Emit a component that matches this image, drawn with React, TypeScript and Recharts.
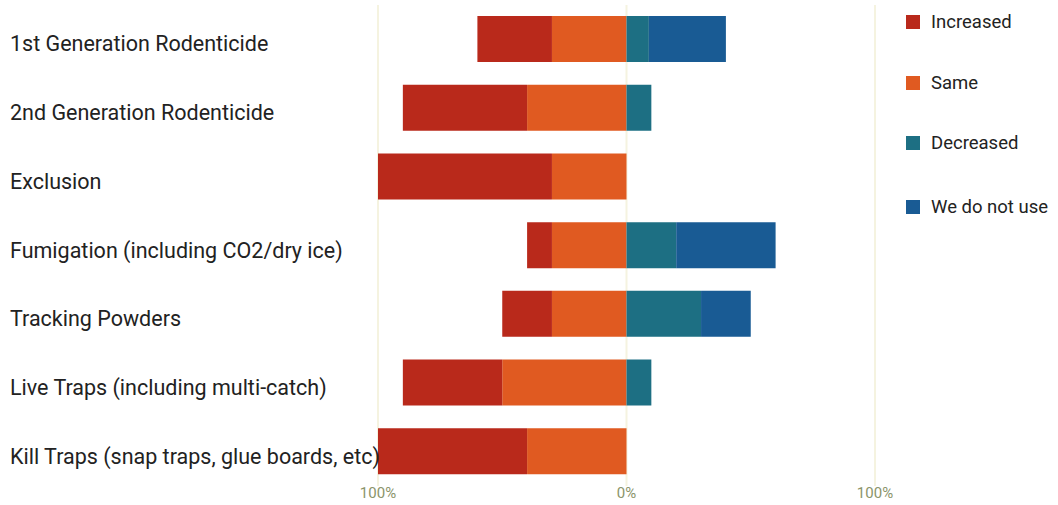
import React from 'react';
import { BarChart, Bar, XAxis, YAxis, CartesianGrid } from 'recharts';

const categories = [
  '1st Generation Rodenticide',
  '2nd Generation Rodenticide',
  'Exclusion',
  'Fumigation (including CO2/dry ice)',
  'Tracking Powders',
  'Live Traps (including multi-catch)',
  'Kill Traps (snap traps, glue boards, etc)',
];

// percentages; increased and same are drawn to the left of zero
const increased = [30, 50, 70, 10, 20, 40, 60];
const same = [30, 40, 30, 30, 30, 50, 40];
const decreased = [9, 10, 0, 20, 30, 10, 0];
const notUsed = [31, 0, 0, 40, 20, 0, 0];

const xTicks = [-100, 0, 100];

const SERIES = [
  { key: 'increased', name: 'Increased', color: '#b9291b' },
  { key: 'same', name: 'Same', color: '#e05a21' },
  { key: 'decreased', name: 'Decreased', color: '#1d6f83' },
  { key: 'notUsed', name: 'We do not use', color: '#195b94' },
];

const data = categories.map((name, i) => ({
  name,
  increased: -increased[i],
  same: -same[i],
  decreased: decreased[i],
  notUsed: notUsed[i],
}));

const FONT = 'Roboto, "Noto Sans", sans-serif';

const CategoryTick = (props: any) => {
  const { y, payload } = props;
  return (
    <text x={10} y={y} dy={12} textAnchor="start" fill="#222" fontSize={21.5} fontFamily={FONT}>
      {payload.value}
    </text>
  );
};

const legendTops = [11, 72, 132, 196];

export default function App() {
  return (
    <div style={{ position: 'absolute', left: 0, top: 0, width: 1058, height: 505, background: '#fff' }}>
      <BarChart
        width={1058}
        height={505}
        data={data}
        layout="vertical"
        stackOffset="sign"
        barSize={46}
        margin={{ top: 5, right: 183, bottom: 0, left: 0 }}
      >
        <CartesianGrid horizontal={false} stroke="#f5f3e0" strokeWidth={2} />
        <XAxis
          type="number"
          domain={[-100, 100]}
          ticks={xTicks}
          axisLine={false}
          tickLine={false}
          tickSize={0}
          tickMargin={1}
          height={19}
          tickFormatter={(v: number) => `${Math.abs(v)}%`}
          tick={{ fill: '#8b946a', fontSize: 15, fontFamily: FONT }}
        />
        <YAxis
          type="category"
          dataKey="name"
          width={378}
          axisLine={false}
          tickLine={false}
          tick={<CategoryTick />}
          interval={0}
        />
        <Bar dataKey="same" stackId="a" fill="#e05a21" isAnimationActive={false} />
        <Bar dataKey="increased" stackId="a" fill="#b9291b" isAnimationActive={false} />
        <Bar dataKey="decreased" stackId="a" fill="#1d6f83" isAnimationActive={false} />
        <Bar dataKey="notUsed" stackId="a" fill="#195b94" isAnimationActive={false} />
      </BarChart>
      {SERIES.map((s, i) => (
        <div
          key={s.key}
          style={{
            position: 'absolute',
            left: 906,
            top: legendTops[i],
            display: 'flex',
            alignItems: 'center',
            fontFamily: FONT,
            fontSize: 18.5,
            color: '#222',
            whiteSpace: 'nowrap',
          }}
        >
          <span style={{ width: 14, height: 14, background: s.color, display: 'inline-block', marginRight: 11 }} />
          {s.name}
        </div>
      ))}
    </div>
  );
}
